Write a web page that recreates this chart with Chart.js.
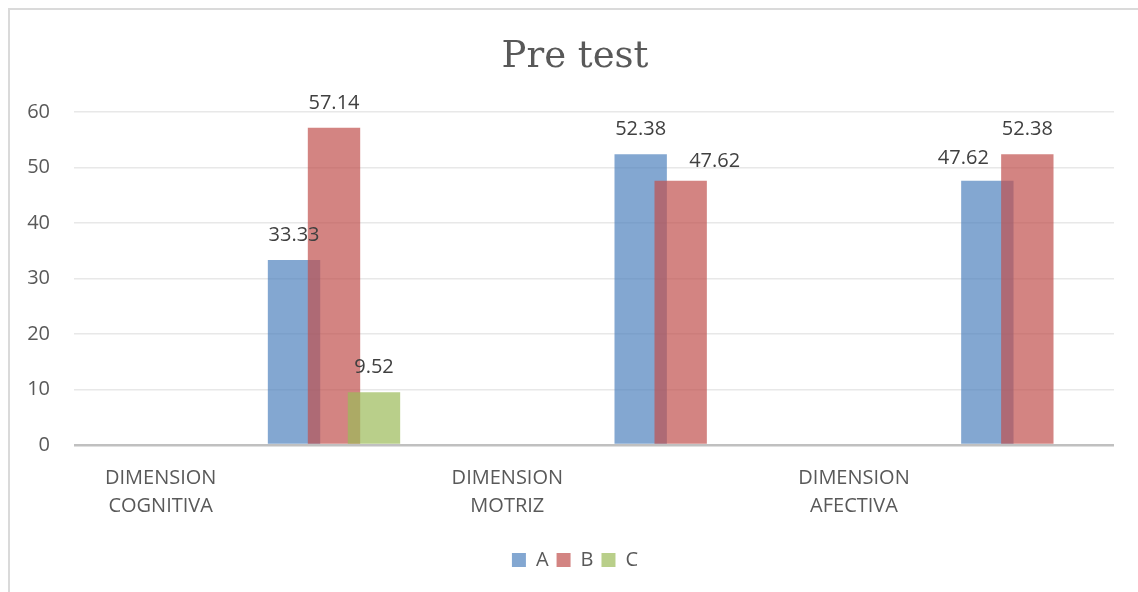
<!DOCTYPE html>
<html><head><meta charset="utf-8">
<script src="https://cdn.jsdelivr.net/npm/chart.js@4/dist/chart.umd.min.js"></script>
<style>
html,body{margin:0;padding:0;background:#fff;}
#wrap{position:relative;width:1138px;height:592px;overflow:hidden;}
#frame{position:absolute;left:8px;top:8px;width:1200px;height:700px;border-left:2px solid #dadada;border-top:2px solid #dadada;}
canvas{position:absolute;left:0;top:0;}
</style></head>
<body><div id="wrap"><div id="frame"></div><canvas id="c" width="1138" height="592"></canvas></div>
<script>
// Source sheet layout: category labels sit on one row, bar values on the next
const categories = [["DIMENSION","COGNITIVA"], "", ["DIMENSION","MOTRIZ"], "", ["DIMENSION","AFECTIVA"], ""];
const seriesNames = ["A", "B", "C"];
const seriesA = [null, 33.33, null, 52.38, null, 47.62];
const seriesB = [null, 57.14, null, 47.62, null, 52.38];
const seriesC = [null, 9.52, null, null, null, null];
const yTicks = [0, 10, 20, 30, 40, 50, 60];
const titleText = "Pre test";

const colors = ["rgba(79,129,189,0.7)", "rgba(192,80,77,0.7)", "rgba(155,187,89,0.7)"];
const FONT = "'Open Sans', 'Liberation Sans', sans-serif";
const TXT = "#595959";

// draw datasets in forward order so later series overlap earlier ones (as in the source)
const forwardDraw = {
  id: 'forwardDraw',
  beforeDatasetsDraw(chart) {
    if (typeof chart._drawDataset !== 'function') return;
    chart.getSortedVisibleDatasetMetas().forEach(m => chart._drawDataset(m));
    return false;
  }
};

const valueLabels = {
  id: 'valueLabels',
  afterDraw(chart, args, opts) {
    const ctx = chart.ctx;
    ctx.save();
    ctx.font = "20px " + FONT;
    ctx.fillStyle = "#404040";
    ctx.textAlign = "center";
    ctx.textBaseline = "middle";
    chart.data.datasets.forEach((ds, di) => {
      const meta = chart.getDatasetMeta(di);
      meta.data.forEach((bar, i) => {
        const v = ds.data[i];
        if (v === null || v === undefined) return;
        const off = (opts.offsets && opts.offsets[di + "-" + i]) || [0, 0];
        ctx.fillText(v.toFixed(2), bar.x + off[0], bar.y - opts.gap + off[1]);
      });
    });
    ctx.restore();
  }
};

const seriesData = [seriesA, seriesB, seriesC];
new Chart(document.getElementById('c'), {
  type: 'bar',
  data: {
    labels: categories,
    datasets: seriesNames.map((n, k) => ({
      label: n,
      data: seriesData[k],
      backgroundColor: colors[k],
      borderWidth: 0,
      categoryPercentage: 0.692,
      barPercentage: 1.31
    }))
  },
  options: {
    responsive: false,
    devicePixelRatio: 1,
    animation: false,
    layout: { padding: { left: 12, right: 0, top: 0, bottom: 12 } },
    plugins: {
      title: {
        display: true, text: titleText, color: TXT,
        font: { family: "'DejaVu Serif', serif", size: 37, weight: 'normal' },
        padding: { top: 35, bottom: 32.6 }
      },
      legend: {
        position: 'bottom',
        labels: { color: TXT, font: { family: FONT, size: 20 }, boxWidth: 14, boxHeight: 14, padding: 8 }
      },
      tooltip: { enabled: false },
      valueLabels: { gap: 25, offsets: { "1-3": [34, 6], "0-5": [-24, 3] } }
    },
    scales: {
      x: {
        grid: { display: false, drawTicks: false },
        border: { display: false },
        ticks: { color: TXT, font: { family: FONT, size: 20, lineHeight: 1.4 }, padding: 19, autoSkip: false, maxRotation: 0, minRotation: 0 },
        afterFit: s => { s.height = 97; }
      },
      y: {
        min: 0, max: 60,
        afterBuildTicks: s => { s.ticks = yTicks.map(v => ({ value: v })); },
        grid: {
          drawTicks: false,
          color: c => (c.tick && c.tick.value === 0) ? '#c0c0c0' : '#e8e8e8',
          lineWidth: c => (c.tick && c.tick.value === 0) ? 2.5 : 1.5
        },
        border: { display: false },
        ticks: { color: TXT, font: { family: FONT, size: 20 }, padding: 24 },
        afterFit: s => { s.width = 62; }
      },
      yRight: {
        position: 'right', min: 0, max: 60,
        grid: { display: false, drawTicks: false },
        border: { display: false },
        ticks: { display: false },
        afterFit: s => { s.width = 24; }
      }
    }
  },
  plugins: [forwardDraw, valueLabels]
});
</script>
</body></html>
